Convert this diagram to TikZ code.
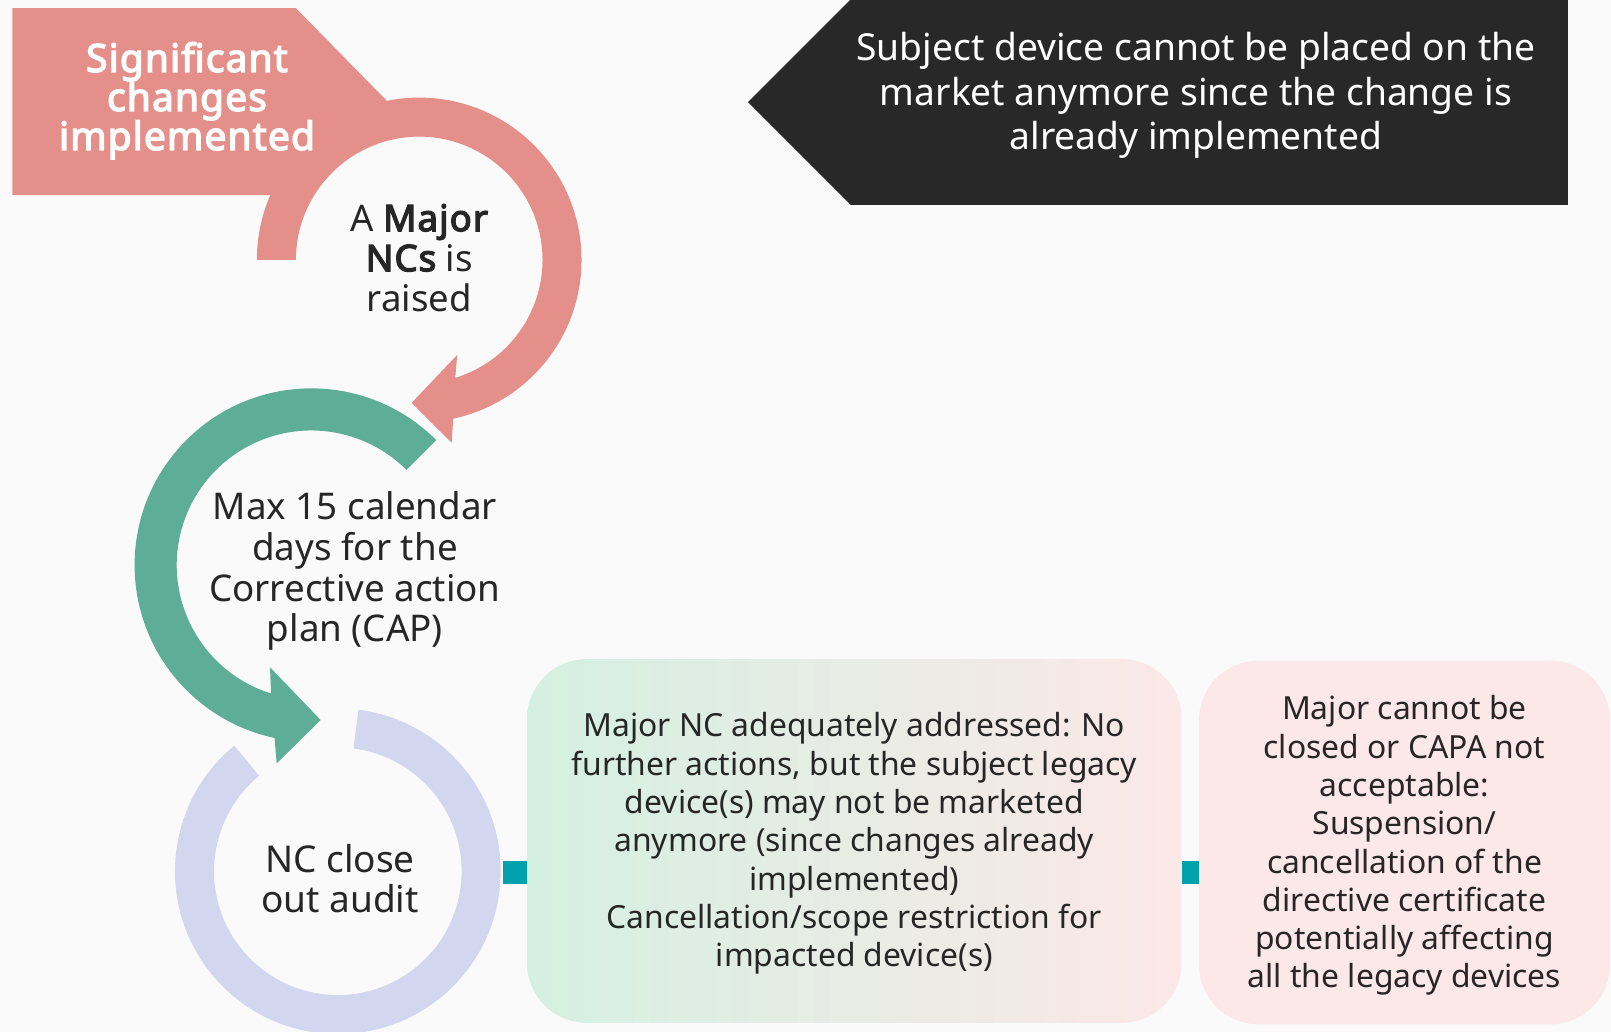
\documentclass[tikz,border=0pt]{standalone}
\usepackage{fontspec}
\setmainfont{Noto Sans}
\newfontfamily\headfont{Noto Sans}[AutoFakeBold=3.6, LetterSpace=3]
\usetikzlibrary{calc}
\definecolor{bgc}{HTML}{FAFAFA}
\definecolor{pinkc}{HTML}{E58F8B}
\definecolor{greenc}{HTML}{5EAD97}
\definecolor{lavc}{HTML}{D3D6EF}
\definecolor{tealc}{HTML}{00A3AD}
\definecolor{darkc}{HTML}{282828}
\definecolor{txtc}{HTML}{262626}
\definecolor{mintc}{HTML}{D4F0E2}
\definecolor{rosec}{HTML}{FCE8E8}
\newcommand\heavy[1]{{\headfont\bfseries #1}}
\begin{document}
\begin{tikzpicture}[x=0.5pt,y=-0.5pt,
  lbl/.style={text=txtc, align=center, inner sep=0pt},
  outcome/.style={rounded corners=29pt, inner sep=0pt, minimum height=177pt},
  body/.style={lbl, font=\fontsize{15.5}{18.65}\selectfont},
  conn/.style={draw=tealc, line width=11pt, line cap=butt}]
\useasboundingbox (0,0) rectangle (1568,1004);
\fill[bgc] (0,0) rectangle (1568,1004);
\clip (0,0) rectangle (1568,1004);

% ring centres
\coordinate (pc) at (408,253);
\coordinate (gc) at (303,550);
\coordinate (lc) at (328.8,848);

% dark banner pointing left
\fill[darkc] (728,99.5) -- (828,-0.5) -- (1526,-0.5) -- (1526,199.5) -- (828,199.5) -- cycle;
\node[lbl, text=white, font=\fontsize{18.1}{21.75}\selectfont] (banner) at (1164,93)
  {Subject device cannot be placed on the\\market anymore since the change is\\already implemented};

% pink tab and first curved arrow
\fill[pinkc] (12,8) -- (288,8) -- ([shift={(258.5:158)}]pc) -- ([shift={(203.5:158)}]pc) -- (12,190) -- cycle;
\fill[pinkc] ([shift={(180:158)}]pc) arc[start angle=180, end angle=437.9, radius=158]
  -- (439.6,430.9) -- (400.7,392) -- (445,345.5)
  -- ([shift={(433:120)}]pc) arc[start angle=433, end angle=180, radius=120] -- cycle;
\node[lbl, text=white, font=\headfont\bfseries\fontsize{18.9}{19}\selectfont] (start) at (182,98)
  {Significant\\changes\\implemented};
\node[lbl, font=\fontsize{17.8}{19.5}\selectfont] (major) at (408,251)
  {A \heavy{Major}\\\heavy{NCs} is\\raised};

% green curved arrow
\fill[greenc] ([shift={(315:172)}]gc) arc[start angle=315, end angle=102, radius=172]
  -- (269.3,743) -- (312.1,700.8) -- (262.8,649.5)
  -- ([shift={(107.4:131)}]gc) arc[start angle=107.4, end angle=315, radius=131] -- cycle;
\node[lbl, font=\fontsize{17.9}{19.75}\selectfont] (cap) at (345.5,556)
  {Max 15 calendar\\days for the\\Corrective action\\plan (CAP)};

% lavender open ring
\fill[lavc] ([shift={(230.5:158.5)}]lc) arc[start angle=230.5, end angle=-82.7, radius=158.5]
  -- ([shift={(-82.7:120.5)}]lc) arc[start angle=-82.7, end angle=230.5, radius=120.5] -- cycle;
\node[lbl, font=\fontsize{18}{19.5}\selectfont] (audit) at (331,855)
  {NC close\\out audit};

% outcome boxes
\node[outcome, left color=mintc, right color=rosec, minimum width=318.5pt] (ok) at (831.5,818.5) {};
\node[body] (oktext) at (831.5,821)
  {Major NC adequately addressed: No\\further actions, but the subject legacy\\device(s) may not be marketed\\anymore (since changes already\\implemented)\\Cancellation/scope restriction for\\impacted device(s)};
\node[outcome, fill=rosec, minimum width=200pt] (fail) at (1367,820) {};
\node[body] (failtext) at (1367,823)
  {Major cannot be\\closed or CAPA not\\acceptable:\\Suspension/\\cancellation of the\\directive certificate\\potentially affecting\\all the legacy devices};

% connectors
\coordinate (ringE) at (490,849);
\draw[conn] (ringE) -- (ringE -| ok.west);
\draw[conn] (ringE -| ok.east) -- (ringE -| fail.west);
\end{tikzpicture}
\end{document}
